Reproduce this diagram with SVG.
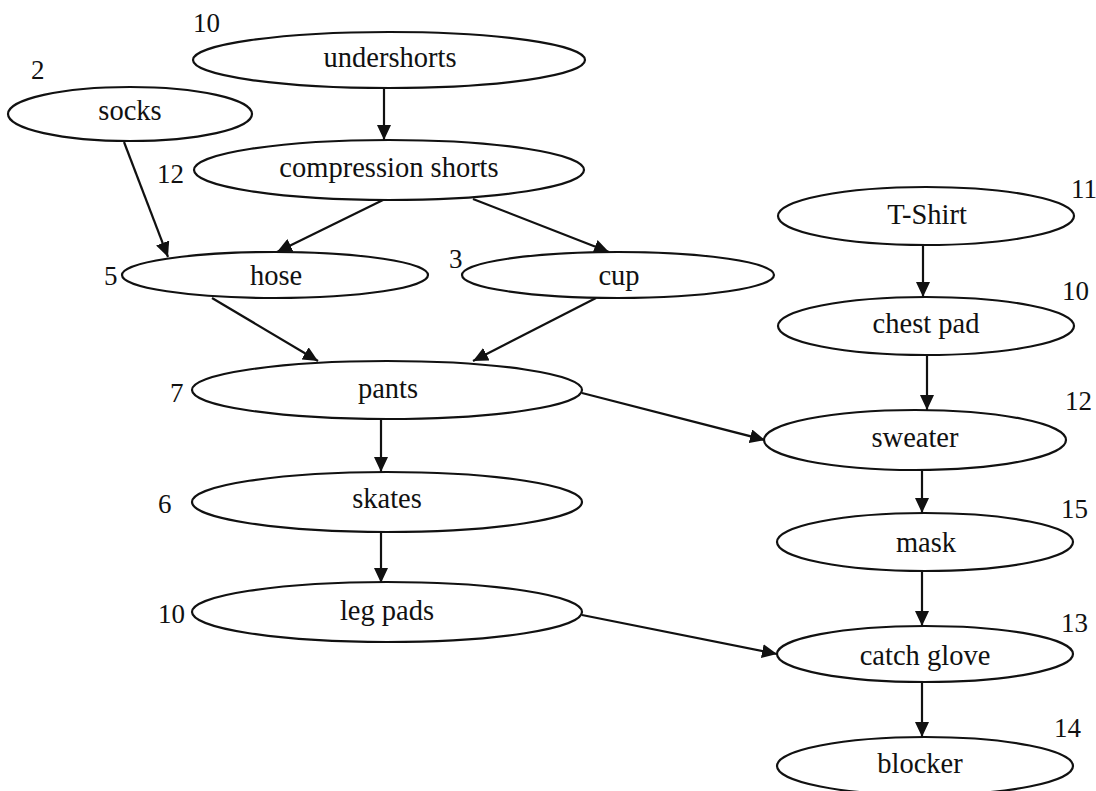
<svg xmlns="http://www.w3.org/2000/svg" width="1096" height="791" viewBox="0 0 1096 791">
<style>
.n ellipse{fill:#fff;stroke:#111;stroke-width:2.2}
.t{font-family:"Liberation Serif","Times New Roman",serif;font-size:28.5px;fill:#111;text-anchor:middle}
.k{font-family:"Liberation Serif","Times New Roman",serif;font-size:27px;fill:#111}
#edges line{stroke:#111;stroke-width:2.2;marker-end:url(#ah)}
</style>
<defs>
<marker id="ah" markerUnits="userSpaceOnUse" markerWidth="16" markerHeight="14" refX="15" refY="7" orient="auto">
<path d="M0,0 L15,7 L0,14 z" fill="#111"/>
</marker>
</defs>
<rect width="1096" height="791" fill="#fff"/>
<g id="edges">
<line x1="384" y1="89" x2="384" y2="140"/>
<line x1="124" y1="142" x2="168" y2="257"/>
<line x1="383" y1="200" x2="277" y2="252"/>
<line x1="473" y1="199" x2="609" y2="252"/>
<line x1="212" y1="298" x2="318" y2="361"/>
<line x1="596" y1="298" x2="473" y2="361"/>
<line x1="582" y1="393" x2="765" y2="440"/>
<line x1="381" y1="420" x2="381" y2="472"/>
<line x1="381" y1="532" x2="381" y2="583"/>
<line x1="582" y1="615" x2="777" y2="654"/>
<line x1="923" y1="246" x2="923" y2="297"/>
<line x1="927" y1="356" x2="927" y2="410"/>
<line x1="922" y1="470" x2="922" y2="513"/>
<line x1="922" y1="572" x2="922" y2="626"/>
<line x1="922" y1="683" x2="922" y2="737"/>
</g>
<g id="undershorts" class="n"><ellipse cx="389" cy="60" rx="196" ry="28"/><text class="t" x="390" y="67">undershorts</text><text class="k" x="193" y="32">10</text></g>
<g id="socks" class="n"><ellipse cx="130" cy="114" rx="122" ry="27"/><text class="t" x="130" y="120">socks</text><text class="k" x="31" y="79">2</text></g>
<g id="compression-shorts" class="n"><ellipse cx="389" cy="170" rx="195" ry="30"/><text class="t" x="389" y="177">compression shorts</text><text class="k" x="157" y="183">12</text></g>
<g id="hose" class="n"><ellipse cx="275" cy="275" rx="153" ry="23"/><text class="t" x="276" y="285">hose</text><text class="k" x="104" y="285">5</text></g>
<g id="cup" class="n"><ellipse cx="618" cy="275" rx="156" ry="23"/><text class="t" x="619" y="285">cup</text><text class="k" x="449" y="268">3</text></g>
<g id="pants" class="n"><ellipse cx="387" cy="390" rx="195" ry="29"/><text class="t" x="388" y="398">pants</text><text class="k" x="170" y="402">7</text></g>
<g id="skates" class="n"><ellipse cx="387" cy="502" rx="195" ry="30"/><text class="t" x="387" y="508">skates</text><text class="k" x="158" y="513">6</text></g>
<g id="leg-pads" class="n"><ellipse cx="387" cy="612" rx="195" ry="30"/><text class="t" x="387" y="620">leg pads</text><text class="k" x="158" y="623">10</text></g>
<g id="t-shirt" class="n"><ellipse cx="926" cy="216" rx="148" ry="29"/><text class="t" x="927" y="224">T-Shirt</text><text class="k" x="1071" y="198">11</text></g>
<g id="chest-pad" class="n"><ellipse cx="926" cy="326" rx="148" ry="29"/><text class="t" x="926" y="333">chest pad</text><text class="k" x="1062" y="300">10</text></g>
<g id="sweater" class="n"><ellipse cx="915" cy="440" rx="151" ry="30"/><text class="t" x="915" y="447">sweater</text><text class="k" x="1065" y="410">12</text></g>
<g id="mask" class="n"><ellipse cx="925" cy="542" rx="148" ry="29"/><text class="t" x="926" y="552">mask</text><text class="k" x="1061" y="518">15</text></g>
<g id="catch-glove" class="n"><ellipse cx="925" cy="654" rx="148" ry="28"/><text class="t" x="925" y="665">catch glove</text><text class="k" x="1061" y="632">13</text></g>
<g id="blocker" class="n"><ellipse cx="925" cy="766" rx="148" ry="29"/><text class="t" x="920" y="773">blocker</text><text class="k" x="1054" y="737">14</text></g>
</svg>
